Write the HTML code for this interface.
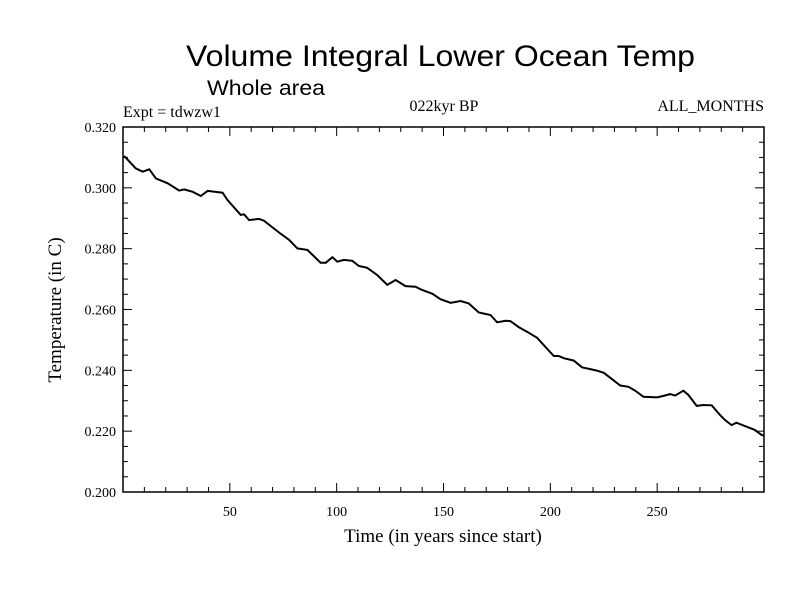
<!DOCTYPE html>
<html><head><meta charset="utf-8"><style>
body{margin:0;background:#fff}
svg text{font-family:"Liberation Serif",serif;fill:#000}
svg text.sans{font-family:"Liberation Sans",sans-serif}
</style></head><body>
<svg id="chart" width="800" height="600" xmlns="http://www.w3.org/2000/svg">
<rect width="800" height="600" fill="#fff"/>
<text class="sans" x="186" y="66" font-size="30" textLength="509" lengthAdjust="spacingAndGlyphs">Volume Integral Lower Ocean Temp</text>
<text class="sans" x="207" y="95" font-size="21" textLength="118" lengthAdjust="spacingAndGlyphs">Whole area</text>
<text x="123" y="117" font-size="16">Expt = tdwzw1</text>
<text x="444" y="111" font-size="16" text-anchor="middle">022kyr BP</text>
<text x="764" y="111" font-size="16" text-anchor="end">ALL_MONTHS</text>
<g id="axes"></g>
<path id="line" fill="none" stroke="#000" stroke-width="2"/>
<rect x="123" y="127" width="641" height="365" fill="none" stroke="#000" stroke-width="1.5"/>
<text x="443" y="542" font-size="19" text-anchor="middle">Time (in years since start)</text>
<text transform="translate(61,310) rotate(-90)" font-size="19" text-anchor="middle">Temperature (in C)</text>
</svg>
<script>
const years=[0.5,6,9.2,12.3,15.4,20.9,26.3,28.6,32.6,36.4,39.6,46.6,48.9,55.1,56.7,59,63.7,66,73,77.7,81.6,86.3,92.5,94.9,98,100.3,103.4,107.3,110.4,114.3,119,123.7,127.6,132.2,136.9,140,144.7,148.6,153.3,158,161.8,166.5,172,175.1,179,181.3,185.2,189.1,193.8,196.9,201.6,203.9,206.3,211,214.8,218.7,221.8,225,228.9,232.7,236.6,239.7,243.6,249.9,253,256.1,258.4,262.3,264.6,268.5,271.6,275.5,279.4,281.7,284.8,287.1,291,295.7,298.8,300];
const temps=[0.3105,0.3064,0.3053,0.3061,0.3031,0.3015,0.2991,0.2995,0.2987,0.2973,0.2990,0.2984,0.2960,0.2911,0.2913,0.2894,0.2898,0.2892,0.2853,0.2829,0.2801,0.2796,0.2754,0.2754,0.2772,0.2757,0.2763,0.2760,0.2743,0.2737,0.2713,0.2681,0.2697,0.2677,0.2675,0.2664,0.2652,0.2634,0.2622,0.2628,0.2620,0.2590,0.2582,0.2558,0.2563,0.2562,0.2542,0.2527,0.2507,0.2483,0.2447,0.2447,0.2440,0.2432,0.2410,0.2404,0.2399,0.2392,0.2371,0.2350,0.2346,0.2333,0.2313,0.2311,0.2316,0.2322,0.2317,0.2333,0.2319,0.2283,0.2286,0.2285,0.2253,0.2237,0.2220,0.2228,0.2217,0.2204,0.2188,0.2185];
const xTickLabels=[50,100,150,200,250];
const yTickLabels=[0.200,0.220,0.240,0.260,0.280,0.300,0.320];
const X0=123,X1=764,Y0=492,Y1=127,xMin=0,xMax=300,yMin=0.2,yMax=0.32;
const sx=v=>X0+(v-xMin)/(xMax-xMin)*(X1-X0);
const sy=v=>Y0-(v-yMin)/(yMax-yMin)*(Y0-Y1);
const NS="http://www.w3.org/2000/svg";
const g=document.getElementById('axes');
function ln(x1,y1,x2,y2,name){const l=document.createElementNS(NS,'line');
l.setAttribute('x1',x1);l.setAttribute('y1',y1);l.setAttribute('x2',x2);l.setAttribute('y2',y2);
l.setAttribute('stroke','#000');l.setAttribute('stroke-width','1');


g.appendChild(l);}
for(let v=10;v<xMax;v+=10){const x=sx(v),L=(v%50===0)?9:5;ln(x,Y0,x,Y0-L,'x-tick');ln(x,Y1,x,Y1+L,'x-tick-top');}
for(let i=1;i<24;i++){const v=yMin+i*0.005,y=sy(v),L=(i%4===0)?9:5;ln(X0,y,X0+L,y,'y-tick');ln(X1,y,X1-L,y,'y-tick-right');}
xTickLabels.forEach(v=>{const t=document.createElementNS(NS,'text');t.setAttribute('x',sx(v));t.setAttribute('y',Y0+24);t.setAttribute('font-size','14');t.setAttribute('text-anchor','middle');t.textContent=v;


g.appendChild(t);});
yTickLabels.forEach(v=>{const t=document.createElementNS(NS,'text');t.setAttribute('x',X0-7);t.setAttribute('y',sy(v)+5);t.setAttribute('font-size','14');t.setAttribute('text-anchor','end');t.textContent=v.toFixed(3);


g.appendChild(t);});
document.getElementById('line').setAttribute('d',years.map((y,i)=>(i?'L':'M')+sx(y).toFixed(1)+','+sy(temps[i]).toFixed(1)).join(''));
</script>
</body></html>
